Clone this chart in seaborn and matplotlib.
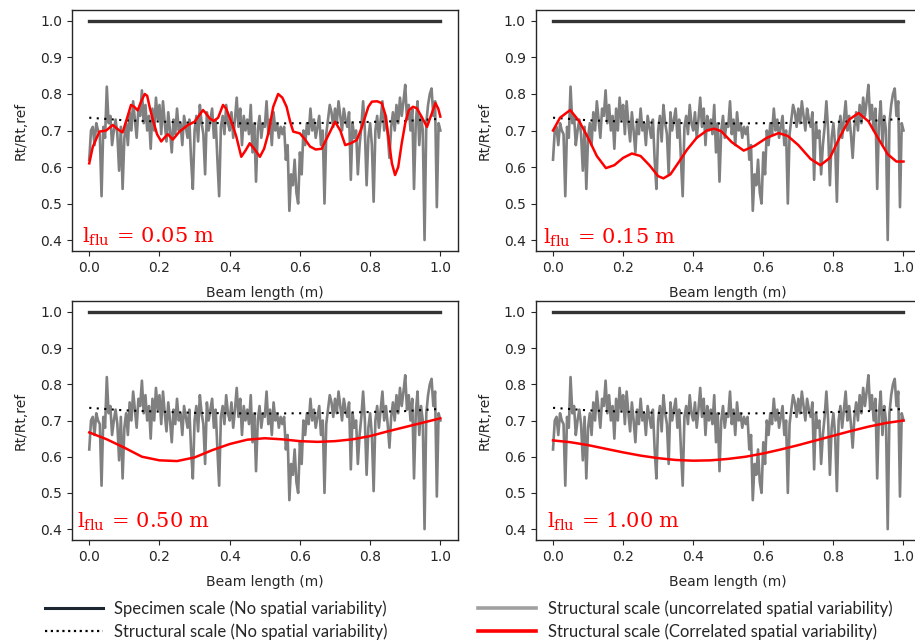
import numpy as np
import pandas as pd
import matplotlib
matplotlib.use("Agg")
import matplotlib.pyplot as plt
from matplotlib.lines import Line2D
import seaborn as sns

# ---------------------------------------------------------------- data
beam_x = np.round(np.arange(0, 201) * 0.005, 3)

# structural scale, uncorrelated spatial variability (one value every 5 mm)
uncorrelated = [
    0.62, 0.70, 0.71, 0.66, 0.72, 0.70, 0.69, 0.52, 0.71, 0.68,
    0.82, 0.72, 0.74, 0.66, 0.70, 0.73, 0.69, 0.59, 0.71, 0.54,
    0.68, 0.72, 0.66, 0.75, 0.70, 0.78, 0.73, 0.68, 0.76, 0.74,
    0.81, 0.72, 0.77, 0.70, 0.74, 0.65, 0.76, 0.70, 0.79, 0.73,
    0.77, 0.69, 0.78, 0.72, 0.67, 0.75, 0.70, 0.64, 0.73, 0.69,
    0.76, 0.70, 0.72, 0.66, 0.74, 0.71, 0.68, 0.73, 0.62, 0.54,
    0.70, 0.74, 0.67, 0.77, 0.72, 0.69, 0.58, 0.75, 0.70, 0.73,
    0.76, 0.68, 0.73, 0.62, 0.52, 0.71, 0.74, 0.69, 0.77, 0.72,
    0.70, 0.75, 0.68, 0.73, 0.79, 0.71, 0.76, 0.66, 0.74, 0.70,
    0.73, 0.69, 0.77, 0.64, 0.72, 0.56, 0.70, 0.74, 0.68, 0.72,
    0.71, 0.78, 0.69, 0.73, 0.66, 0.75, 0.70, 0.72, 0.68, 0.71,
    0.69, 0.71, 0.62, 0.66, 0.48, 0.58, 0.55, 0.62, 0.53, 0.50,
    0.64, 0.58, 0.70, 0.66, 0.72, 0.69, 0.76, 0.70, 0.73, 0.68,
    0.71, 0.74, 0.66, 0.70, 0.50, 0.69, 0.73, 0.77, 0.75, 0.71,
    0.76, 0.72, 0.78, 0.74, 0.70, 0.76, 0.73, 0.71, 0.75, 0.565,
    0.72, 0.68, 0.70, 0.58, 0.66, 0.71, 0.78, 0.70, 0.55, 0.68,
    0.72, 0.66, 0.505, 0.70, 0.74, 0.68, 0.73, 0.78, 0.70, 0.74,
    0.69, 0.625, 0.71, 0.75, 0.70, 0.77, 0.72, 0.79, 0.74, 0.78,
    0.825, 0.73, 0.77, 0.70, 0.76, 0.54, 0.72, 0.78, 0.66, 0.74,
    0.70, 0.40, 0.72, 0.77, 0.80, 0.815, 0.74, 0.78, 0.49, 0.72,
    0.70,
]

# specimen scale (no spatial variability)
specimen_x = [0.0, 1.0]
specimen_y = [1.0, 1.0]

# structural scale, no spatial variability
structural_x = [0.0, 0.1, 0.3, 0.5, 0.7, 0.9, 1.0]
structural_y = [0.735, 0.728, 0.721, 0.719, 0.721, 0.726, 0.732]

# structural scale, correlated spatial variability (one curve per fluctuation length)
lflu_labels = ["0.05", "0.15", "0.50", "1.00"]

corr_005_x = [0.0, 0.01, 0.029, 0.048, 0.067, 0.086, 0.095, 0.108, 0.119, 0.128,
              0.138, 0.148, 0.158, 0.165, 0.173, 0.181, 0.193, 0.205, 0.214, 0.224,
              0.238, 0.257, 0.281, 0.3, 0.312, 0.324, 0.334, 0.343, 0.355, 0.367,
              0.381, 0.39, 0.4, 0.41, 0.419, 0.433, 0.445, 0.457, 0.47, 0.486,
              0.498, 0.51, 0.524, 0.538, 0.55, 0.562, 0.572, 0.581, 0.6, 0.615,
              0.629, 0.645, 0.662, 0.68, 0.7, 0.715, 0.729, 0.745, 0.762, 0.775,
              0.786, 0.795, 0.805, 0.82, 0.833, 0.843, 0.852, 0.862, 0.871, 0.88,
              0.89, 0.9, 0.91, 0.922, 0.933, 0.948, 0.962, 0.975, 0.986, 0.994, 1.0]
corr_005_y = [0.61, 0.655, 0.697, 0.70, 0.715, 0.70, 0.695, 0.735, 0.77, 0.765,
              0.755, 0.78, 0.80, 0.795, 0.76, 0.73, 0.69, 0.67, 0.68, 0.69,
              0.675, 0.697, 0.715, 0.724, 0.74, 0.756, 0.745, 0.733, 0.726, 0.735,
              0.77, 0.76, 0.735, 0.71, 0.683, 0.628, 0.645, 0.665, 0.65, 0.628,
              0.65, 0.692, 0.765, 0.80, 0.79, 0.765, 0.725, 0.697, 0.692, 0.675,
              0.656, 0.648, 0.65, 0.685, 0.724, 0.70, 0.66, 0.665, 0.674, 0.705,
              0.738, 0.765, 0.779, 0.78, 0.775, 0.745, 0.683, 0.61, 0.578, 0.60,
              0.665, 0.72, 0.755, 0.765, 0.761, 0.735, 0.71, 0.745, 0.775, 0.76, 0.738]

corr_015_x = [0.0, 0.02, 0.049, 0.075, 0.10, 0.125, 0.151, 0.175, 0.2, 0.225,
              0.25, 0.275, 0.3, 0.315, 0.335, 0.36, 0.382, 0.41, 0.439, 0.46,
              0.48, 0.51, 0.544, 0.575, 0.61, 0.644, 0.67, 0.7, 0.735, 0.763,
              0.79, 0.82, 0.845, 0.872, 0.9, 0.93, 0.955, 0.98, 1.0]
corr_015_y = [0.70, 0.735, 0.756, 0.725, 0.68, 0.63, 0.597, 0.605, 0.625, 0.637,
              0.63, 0.605, 0.575, 0.569, 0.58, 0.615, 0.647, 0.68, 0.70, 0.705,
              0.698, 0.668, 0.645, 0.658, 0.68, 0.693, 0.685, 0.66, 0.622, 0.605,
              0.625, 0.685, 0.73, 0.748, 0.725, 0.675, 0.635, 0.615, 0.615]

corr_050_x = [0.0, 0.05, 0.1, 0.15, 0.2, 0.25, 0.3, 0.35, 0.4, 0.45, 0.5,
              0.55, 0.6, 0.65, 0.7, 0.75, 0.8, 0.85, 0.9, 0.95, 1.0]
corr_050_y = [0.667, 0.648, 0.625, 0.60, 0.59, 0.588, 0.598, 0.618, 0.635, 0.647, 0.651,
              0.648, 0.643, 0.641, 0.643, 0.648, 0.657, 0.67, 0.682, 0.694, 0.706]

corr_100_x = [0.0, 0.05, 0.1, 0.15, 0.2, 0.25, 0.3, 0.35, 0.4, 0.45, 0.5,
              0.55, 0.6, 0.65, 0.7, 0.75, 0.8, 0.85, 0.9, 0.95, 1.0]
corr_100_y = [0.645, 0.64, 0.632, 0.622, 0.612, 0.603, 0.596, 0.591, 0.589, 0.59, 0.594,
              0.6, 0.609, 0.62, 0.632, 0.645, 0.658, 0.671, 0.683, 0.693, 0.70]

x_ticks = [0.0, 0.2, 0.4, 0.6, 0.8, 1.0]
y_ticks = [0.4, 0.5, 0.6, 0.7, 0.8, 0.9, 1.0]

# ---------------------------------------------------------------- style
plt.rcParams["mathtext.fontset"] = "dejavuserif"
TEXT = "#262626"
SPEC_COLOR = "#333333"
GRAY = "#808080"
RED = "#ff0000"

W, H = 915, 644
fig = plt.figure(figsize=(W / 100, H / 100), dpi=100)


def px_axes(left, top, right, bottom):
    return fig.add_axes([left / W, 1 - bottom / H, (right - left) / W, (bottom - top) / H])


axes_boxes = [
    (71.7, 10, 457.9, 251),
    (535.5, 10, 921.0, 251),
    (71.7, 301, 457.9, 540),
    (535.5, 301, 921.0, 540),
]
corr_curves = [
    (corr_005_x, corr_005_y),
    (corr_015_x, corr_015_y),
    (corr_050_x, corr_050_y),
    (corr_100_x, corr_100_y),
]
label_pos = [(-0.022, 0.41), (-0.03, 0.405), (-0.035, 0.42), (-0.018, 0.42)]

df_unc = pd.DataFrame({"x": beam_x, "y": uncorrelated})
df_spec = pd.DataFrame({"x": specimen_x, "y": specimen_y})
df_struct = pd.DataFrame({"x": structural_x, "y": structural_y})

for i, box in enumerate(axes_boxes):
    ax = px_axes(*box)
    cx, cy = corr_curves[i]
    df_corr = pd.DataFrame({"x": cx, "y": cy})

    sns.lineplot(data=df_spec, x="x", y="y", ax=ax, color=SPEC_COLOR, lw=2.4)
    sns.lineplot(data=df_unc, x="x", y="y", ax=ax, color=GRAY, lw=1.9)
    sns.lineplot(data=df_struct, x="x", y="y", ax=ax, color="black", lw=1.5,
                 linestyle=(0, (1, 2.6)))
    sns.lineplot(data=df_corr, x="x", y="y", ax=ax, color=RED, lw=1.8)

    ax.set_xlim(-0.05, 1.05)
    ax.set_ylim(0.37, 1.03)
    ax.set_xticks(x_ticks)
    ax.set_yticks(y_ticks)
    ax.set_xticklabels([f"{v:.1f}" for v in x_ticks])
    ax.set_yticklabels([f"{v:.1f}" for v in y_ticks])
    ax.tick_params(labelsize=10, colors=TEXT, labelcolor=TEXT)
    ax.set_xlabel("Beam length (m)", fontsize=10, color=TEXT, labelpad=8)
    ax.set_ylabel("Rt/Rt,ref", fontsize=10, color=TEXT, labelpad=9)
    for s in ax.spines.values():
        s.set_color(TEXT)
        s.set_linewidth(1.0)

    tx, ty = label_pos[i]
    ax.text(tx, ty, r"$\mathrm{l_{flu}}\,=\,\mathrm{" + lflu_labels[i] + r"}\ \mathrm{m}$",
            color=RED, fontsize=15, va="center", ha="left")

# ---------------------------------------------------------------- legend
leg_font = {"family": ["Lato", "DejaVu Sans"], "size": 12}
left_handles = [
    Line2D([], [], color="#1b2631", lw=2.2),
    Line2D([], [], color="black", lw=1.6, linestyle=(0, (1, 1.6))),
]
left_labels = ["Specimen scale (No spatial variability)",
               "Structural scale (No spatial variability)"]
right_handles = [
    Line2D([], [], color="#a0a0a0", lw=2.6),
    Line2D([], [], color=RED, lw=2.6),
]
right_labels = ["Structural scale (uncorrelated spatial variability)",
                "Structural scale (Correlated spatial variability)"]

for handles, labels, x0 in [(left_handles, left_labels, 45),
                            (right_handles, right_labels, 478)]:
    fig.legend(handles, labels, loc="center left",
               bbox_to_anchor=(x0 / W, 1 - 620 / H), frameon=False, prop=leg_font,
               handlelength=3.45, handletextpad=0.72, borderpad=0, borderaxespad=0,
               labelspacing=0.4, labelcolor=TEXT)

fig.savefig("out.png", dpi=100)
